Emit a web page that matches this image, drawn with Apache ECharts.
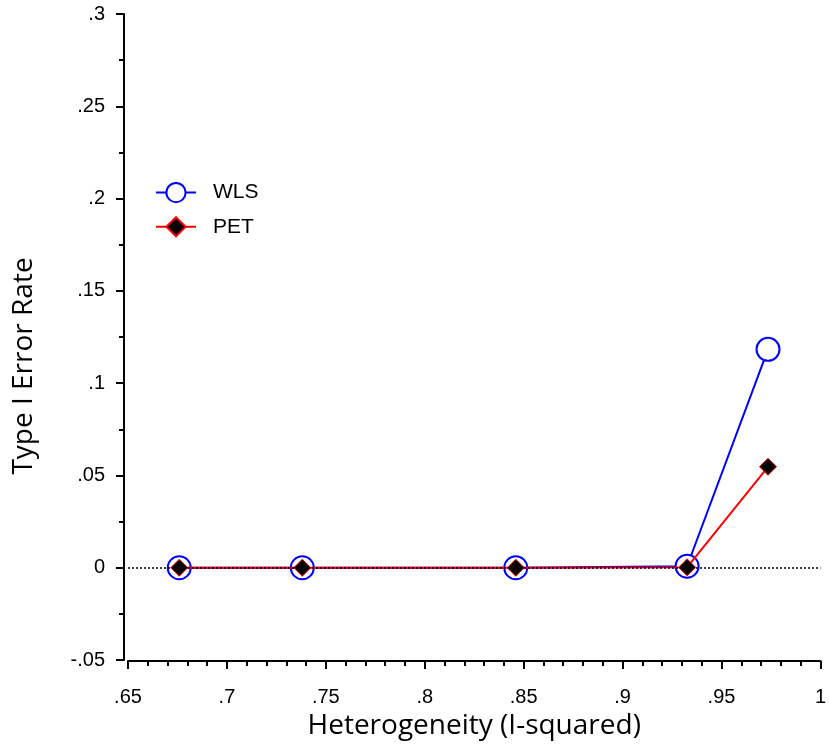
<!DOCTYPE html>
<html><head><meta charset="utf-8">
<script src="https://cdn.jsdelivr.net/npm/echarts@6/dist/echarts.min.js"></script>
<style>html,body{margin:0;padding:0;background:#fff}#c{width:829px;height:749px}</style>
</head><body><div id="c"></div>
<script>
const xValues = [0.6759, 0.7381, 0.8460, 0.9326, 0.9735];
const wlsValues = [0, 0, 0, 0.0008, 0.1183];
const petValues = [0, 0, 0, 0.0002, 0.0547];
const xTickLabels = {0.65:'.65',0.7:'.7',0.75:'.75',0.8:'.8',0.85:'.85',0.9:'.9',0.95:'.95',1:'1'};
const yTickLabels = {'-0.05':'-.05','0':'0','0.05':'.05','0.1':'.1','0.15':'.15','0.2':'.2','0.25':'.25','0.3':'.3'};

const chart = echarts.init(document.getElementById('c'), null, {renderer:'canvas'});
const lbl = v => { const k = Math.round(v*100)/100; return (xTickLabels[k] !== undefined) ? xTickLabels[k] : ''; };
const ylbl = v => { const k = String(Math.round(v*100)/100); return (yTickLabels[k] !== undefined) ? yTickLabels[k] : ''; };
chart.setOption({
  animation:false,
  backgroundColor:'#fff',
  grid:{left:128, right:7, top:14, bottom:89, containLabel:false},
  legend:{
    left:155, top:182, padding:0, orient:'vertical', itemWidth:40, itemHeight:24, itemGap:13,
    textStyle:{fontFamily:'Liberation Sans', fontSize:21, color:'#000', padding:[0,0,0,12]},
    data:['WLS','PET']
  },
  xAxis:{
    type:'value', min:0.65, max:1, interval:0.05, offset:1,
    axisLine:{show:true, onZero:false, lineStyle:{color:'#000', width:2}},
    axisTick:{show:true, length:8, lineStyle:{color:'#000', width:2}},
    minorTick:{show:true, splitNumber:5, length:5, lineStyle:{color:'#000', width:2}},
    splitLine:{show:false},
    axisLabel:{formatter:lbl, fontFamily:'Liberation Sans', fontSize:20, color:'#000', margin:26},
    name:'Heterogeneity (I-squared)', nameLocation:'middle', nameGap:47,
    nameTextStyle:{fontFamily:'Open Sans', fontSize:28, color:'#000'}
  },
  yAxis:{
    type:'value', min:-0.05, max:0.3, interval:0.05, offset:4,
    axisLine:{show:true, onZero:false, lineStyle:{color:'#000', width:2}},
    axisTick:{show:true, length:8, lineStyle:{color:'#000', width:2}},
    minorTick:{show:true, splitNumber:2, length:5, lineStyle:{color:'#000', width:2}},
    splitLine:{show:false},
    axisLabel:{formatter:ylbl, fontFamily:'Liberation Sans', fontSize:20, color:'#000', margin:19},
    name:'Type I Error Rate', nameLocation:'middle', nameGap:86,
    nameTextStyle:{fontFamily:'Open Sans', fontSize:28, color:'#000', padding:[0,58,0,0]}
  },
  series:[
    {
      name:'WLS', type:'line', z:2,
      data:xValues.map((x,i)=>[x, wlsValues[i]]),
      symbol:'circle', symbolSize:23, showAllSymbol:true,
      lineStyle:{color:'#0000ff', width:2},
      itemStyle:{color:'#ffffff', borderColor:'#0000ff', borderWidth:2},
      markLine:{silent:true, symbol:['none','none'], label:{show:false},
        lineStyle:{color:'#000', type:[2,2], width:1.5}, data:[{yAxis:0}]}
    },
    {
      name:'PET', type:'line', z:3,
      data:xValues.map((x,i)=>[x, petValues[i]]),
      symbol:'diamond', symbolSize:[17,17], showAllSymbol:true,
      lineStyle:{color:'#ff0000', width:2},
      itemStyle:{color:'#000000', borderColor:'#ff0000', borderWidth:1}
    }
  ]
});
</script></body></html>
